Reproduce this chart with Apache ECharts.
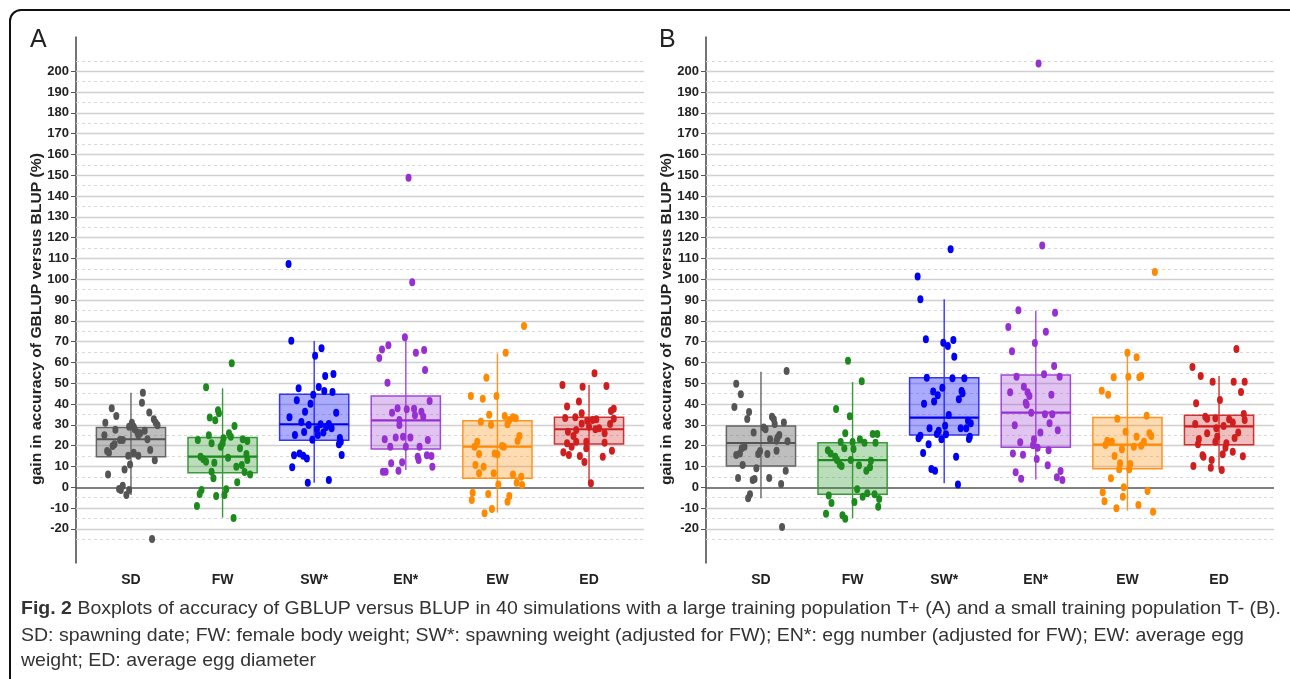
<!DOCTYPE html>
<html><head><meta charset="utf-8">
<script src="https://cdn.jsdelivr.net/npm/echarts@6/dist/echarts.min.js"></script>
<style>html,body{margin:0;padding:0;background:#fff}#c{width:1290px;height:679px}</style>
</head><body><div id="c"></div>
<script>
const categories = ['SD', 'FW', 'SW*', 'EN*', 'EW', 'ED'];
const yTickLabels = [-20,-10,0,10,20,30,40,50,60,70,80,90,100,110,120,130,140,150,160,170,180,190,200];
const minorGrid = [-25,-15,-5,5,15,25,35,45,55,65,75,85,95,105,115,125,135,145,155,165,175,185,195,205];
const yName = 'gain in accuracy of GBLUP versus BLUP (%)';
const panelLabels = ['A', 'B'];
const captionBold = 'Fig. 2';
const captionLine1 = ' Boxplots of accuracy of GBLUP versus BLUP in 40 simulations with a large training population T+ (A) and a small training population T- (B).';
const captionLine2 = 'SD: spawning date; FW: female body weight; SW*: spawning weight (adjusted for FW); EN*: egg number (adjusted for FW); EW: average egg';
const captionLine3 = 'weight; ED: average egg diameter';

// box stats: [lower whisker, Q1, median, Q3, upper whisker]
const boxA = [
  [-3.7, 14.7, 23.1, 28.7, 45.5],
  [-14.6, 7.0, 14.7, 23.9, 47.6],
  [2.2, 22.6, 30.3, 44.7, 70.3],
  [8.3, 18.4, 32.2, 43.9, 72.7],
  [-12.2, 4.3, 19.5, 32.0, 64.4],
  [1.9, 20.8, 27.9, 33.7, 49.2]
];
const boxB = [
  [-5.3, 10.2, 21.3, 29.5, 55.6],
  [-14.9, -3.4, 13.1, 21.4, 50.6],
  [1.9, 25.1, 33.5, 52.7, 90.4],
  [3.8, 19.2, 35.9, 54.0, 84.9],
  [-11.2, 8.9, 20.5, 33.5, 64.4],
  [8.7, 20.5, 29.3, 34.6, 53.5]
];

// points: [horizontal jitter (category units), value]
const ptsA_SD = [[-0.21,38],[-0.16,34.3],[-0.28,31],[-0.29,25],[-0.17,27.7],[-0.26,17.5],[-0.24,16.6],[-0.2,19.8],[-0.18,20.7],[-0.12,22.7],[-0.09,22.7],[-0.25,6.1],[-0.07,8.6],[-0.01,11],[-0.03,15.2],[0.03,16.6],[0.08,15.2],[-0.13,-0.8],[-0.11,-1.3],[-0.09,0.8],[-0.05,-3.7],[-0.02,-1.3],[0.01,31],[0.03,29.1],[0.04,27.9],[0.07,26.3],[0.08,25],[0.1,26],[0.12,40.7],[0.13,45.5],[0.15,27.2],[0.18,23.1],[0.2,36],[0.25,32.7],[0.27,31],[0.29,29.8],[0.21,17.9],[0.26,13],[0.23,-24.9],[-0.02,29.1]];
const ptsA_FW = [[-0.18,48.1],[0.1,59.6],[-0.14,33.5],[-0.08,32.2],[-0.05,37],[-0.04,35.6],[0.13,29.5],[0.07,26],[0.09,24.3],[-0.27,22.7],[-0.15,25],[-0.12,21.2],[-0.02,19.5],[0,21.2],[0.01,23.6],[0.22,23.1],[0.27,22.3],[0.19,18.8],[-0.24,14.7],[-0.21,13.5],[-0.18,12.3],[0.06,14.2],[0.26,16],[0.27,13.1],[0.15,9.9],[0.21,10.7],[-0.12,7.5],[-0.1,4.3],[0.24,7.4],[0.3,6.2],[0.16,2.4],[-0.23,-1.3],[-0.25,-3.2],[-0.28,-9],[-0.07,-4.2],[0.02,-3.7],[0.04,-1],[0.12,-14.8],[-0.09,11.8]];
const ptsA_SW = [[-0.25,70.5],[0.08,66.8],[0.01,63.3],[0.12,53.5],[0.21,54.5],[-0.17,47.6],[0.05,48.2],[0.11,46.3],[0.2,45.8],[-0.01,44.5],[-0.19,41.8],[-0.04,40.2],[-0.1,36.3],[0.24,35.9],[-0.27,33.7],[-0.14,31.4],[-0.06,30],[0.07,30.3],[0.16,30.4],[0.19,28.4],[0.13,29],[0.03,27.9],[-0.11,26.6],[-0.21,25.1],[0.1,26.3],[0.04,25.1],[-0.02,22.9],[0.28,23.7],[0.29,21.9],[0.27,20.7],[-0.22,15.4],[-0.16,16.2],[-0.12,15.2],[-0.08,13.9],[0.3,15.5],[-0.24,9.6],[0.16,3.5],[-0.07,2.2],[-0.28,107.4]];
const ptsA_EN = [[-0.01,72.1],[-0.26,66.3],[-0.19,68.3],[-0.29,62.2],[0.11,64.7],[0.2,66],[0.21,56.4],[-0.2,50.3],[0.26,41.5],[-0.09,38],[0.01,37.5],[0.09,37.8],[-0.15,35.9],[0.17,36.3],[0.1,34.6],[0.19,33.9],[-0.07,32.4],[-0.07,30],[-0.23,23.1],[-0.11,24],[-0.03,24.3],[0.05,24],[0.24,22.7],[-0.17,19.5],[0,19.5],[0.15,19.5],[0.13,14.7],[0.14,13.1],[0.23,15.4],[0.28,15],[-0.16,11.5],[-0.04,12],[-0.25,7.5],[-0.22,7.5],[-0.08,8],[0.29,9.9],[0.03,148.8],[0.07,98.6]];
const ptsA_EW = [[0.09,64.7],[-0.12,52.7],[-0.29,43.9],[-0.16,42.6],[-0.01,43.9],[-0.09,34.9],[-0.18,31.5],[-0.07,30.1],[0.08,34.3],[0.13,32.4],[0.17,33.7],[0.2,33.2],[0.11,30.3],[0.24,24.7],[0.22,22.3],[-0.22,21.9],[-0.25,19.5],[-0.2,16],[-0.03,16.3],[0,15.9],[0.05,19.9],[0.07,19.5],[-0.24,10.7],[-0.15,9.9],[-0.2,6.7],[-0.04,6.7],[0.17,6.2],[0.26,5.1],[0.21,2.2],[0.27,1.1],[0.01,1.4],[-0.27,-2.6],[-0.1,-3.2],[-0.28,-6.1],[0.13,-4.2],[0.11,-6.9],[-0.06,-10.4],[-0.14,-12.5],[0.29,77.5]];
const ptsA_ED = [[0.06,54.8],[-0.29,49.2],[-0.07,48.4],[0.19,48.7],[-0.11,41.2],[-0.24,38.8],[-0.08,35.6],[0.24,36.7],[0.27,37.8],[-0.26,33.3],[-0.15,33.7],[0.27,33],[-0.02,32],[0.04,32.4],[0.08,32.7],[0,29.1],[0.11,28.4],[-0.23,26.7],[-0.14,27.5],[0.07,27.9],[-0.17,24.7],[0.17,26],[-0.14,21.9],[-0.03,21.9],[0.17,21.4],[-0.24,21.2],[-0.19,19.5],[-0.03,18.8],[-0.28,16.8],[-0.22,15.5],[-0.1,15],[0.25,17.6],[0.15,14.7],[-0.05,12.2],[0.02,1.9],[-0.08,30.6],[0.23,30.4]];

const ptsB_SD = [[-0.27,49.8],[-0.22,44.7],[-0.29,38.6],[-0.13,36.2],[-0.15,32.8],[0.28,55.9],[0.12,33.9],[0.14,32.7],[0.15,30.4],[0.25,31.2],[0.03,28.7],[0.05,27.9],[-0.08,26.3],[0.2,25.1],[0.18,23.8],[0.1,23.1],[0.29,22.1],[0.17,22.4],[-0.18,19.5],[-0.21,18.8],[-0.23,16.3],[-0.27,15.5],[-0.01,17.5],[-0.03,16],[0.07,16],[0.17,17.6],[-0.2,10.7],[-0.05,9.1],[0.27,8],[-0.25,4.5],[-0.09,3.5],[-0.07,4],[0.09,4.5],[0.22,1.6],[-0.12,-3.4],[-0.14,-5.3],[0.23,-19.1]];
const ptsB_FW = [[-0.05,60.9],[0.1,51],[-0.18,37.6],[-0.03,34.1],[-0.08,26],[-0.13,21.8],[0,21.8],[0.08,23.1],[0.13,21.4],[0.22,25.6],[0.27,25.6],[0.25,21.4],[-0.27,17.8],[-0.24,16.3],[-0.19,14.7],[-0.17,13.1],[-0.14,11],[-0.12,10.2],[-0.09,18.8],[0.01,18.4],[-0.02,13.1],[0.07,10.6],[0.15,8],[0.19,9.6],[0.2,12.8],[-0.26,-4],[-0.23,-7.5],[-0.29,-12.7],[-0.11,-13.5],[-0.08,-15.1],[0.02,-7.1],[0.05,-1],[0.11,-4.5],[0.16,-2.9],[0.24,-3.4],[0.29,-5.6],[0.28,-9.3]];
const ptsB_SW = [[-0.26,90.4],[-0.2,71.2],[-0.01,69.5],[0.04,67.9],[0.1,70.8],[0.11,62.8],[-0.19,52.7],[0.09,52.4],[0.22,52.4],[-0.02,47.9],[-0.12,46],[-0.07,44.2],[0.19,46.3],[0.2,45.2],[0.16,42.3],[-0.11,41.2],[-0.22,40.2],[0.05,34.8],[-0.16,28.4],[-0.08,25.6],[-0.06,27.2],[0.01,29.6],[0.02,25.5],[-0.03,23.1],[-0.26,24.8],[-0.28,23.6],[0.18,28.4],[0.24,28.4],[0.26,32],[0.29,30.8],[0.28,24.3],[0.27,23.2],[-0.17,20.7],[-0.23,16.5],[0.13,14.7],[-0.14,8.8],[-0.1,8],[0.15,1.4],[-0.29,101.3],[0.07,114.4]];
const ptsB_EN = [[-0.19,85.1],[0.21,83.9],[-0.3,77.1],[0.11,74.8],[-0.26,65.4],[-0.01,69.4],[0.2,58.3],[-0.21,53.2],[0.09,54.3],[0.26,53.2],[-0.28,45.7],[-0.13,48.4],[-0.09,45.7],[-0.07,43.9],[0.17,44.5],[-0.11,40.7],[-0.1,39.7],[-0.05,35.9],[0.1,35.1],[0.18,35.1],[-0.23,29.8],[0.15,30.8],[0.24,27.4],[0.05,26.3],[-0.02,23.1],[-0.17,21.6],[-0.03,20.2],[0.02,19],[-0.25,16.3],[-0.14,15.7],[0.14,17.8],[0.01,13.6],[0.13,10.6],[-0.22,7.2],[-0.16,4.1],[0.23,4.8],[0.27,7.8],[0.29,3.5],[0.03,203.8],[0.07,116.2]];
const ptsB_EW = [[0,64.7],[0.1,62.5],[-0.15,52.9],[0.01,53.2],[0.13,52.9],[0.15,53.5],[-0.28,46.4],[-0.21,44.5],[-0.11,33],[0.21,34.4],[-0.02,26.7],[0.1,24.3],[0.24,26],[0.26,24.7],[0.18,21.9],[0.15,20],[0.07,19.5],[-0.06,18.3],[-0.24,20.3],[-0.22,22.4],[-0.17,21.9],[-0.14,15],[-0.08,11.5],[-0.09,8.7],[0.03,11.2],[0.02,8.7],[-0.18,4.3],[-0.04,0],[-0.27,-2.4],[-0.25,-6.7],[-0.05,-4.5],[0.22,-1.8],[0.12,-8.5],[-0.12,-10.1],[0.28,-11.7],[0.3,103.5]];
const ptsB_ED = [[0.19,66.5],[-0.29,57.8],[-0.2,53.5],[-0.07,50.8],[0.16,50.8],[0.28,50.8],[0.24,45.8],[0.01,42],[-0.25,40.4],[-0.15,33.9],[-0.13,33],[0.27,35.2],[0.28,32.4],[-0.26,30.4],[-0.04,33.2],[0.11,32.7],[0.15,31.1],[0.05,29.5],[-0.03,28.4],[-0.13,26],[0.21,26.4],[-0.02,24.3],[0.17,23.7],[-0.22,23.2],[-0.04,21.9],[-0.23,20.7],[0.08,21.2],[0.07,19],[-0.18,15.4],[-0.17,14.7],[0.04,15.9],[0.15,17.1],[0.26,14.9],[-0.08,13.1],[-0.28,10.2],[-0.09,9.4],[0.03,8.3]];

const ptsA = [ptsA_SD, ptsA_FW, ptsA_SW, ptsA_EN, ptsA_EW, ptsA_ED];
const ptsB = [ptsB_SD, ptsB_FW, ptsB_SW, ptsB_EN, ptsB_EW, ptsB_ED];

// styles
const pointColors = ['#555555', '#1c8a1c', '#0000f5', '#9630d2', '#ff8a00', '#d01e1e'];
const lineColors  = ['#666666', '#3a9a3a', '#3535f0', '#a048d6', '#ff9420', '#cc3333'];
const fillColors  = ['rgba(110,110,110,0.45)', 'rgba(40,150,40,0.32)', 'rgba(20,20,255,0.36)', 'rgba(160,60,215,0.30)', 'rgba(255,145,20,0.33)', 'rgba(210,40,40,0.30)'];

const grids = [{left: 76, top: 37, width: 568, height: 526}, {left: 706, top: 37, width: 568, height: 526}];

function renderBox(params, api) {
  const x = api.value(0);
  const lo = api.coord([x, api.value(1)]);
  const q1 = api.coord([x, api.value(2)]);
  const md = api.coord([x, api.value(3)]);
  const q3 = api.coord([x, api.value(4)]);
  const hi = api.coord([x, api.value(5)]);
  const ci = api.value(6);
  const w = api.size([0.755, 0])[0];
  const c = lineColors[ci];
  return {
    type: 'group',
    children: [
      {type: 'line', shape: {x1: lo[0], y1: lo[1], x2: hi[0], y2: hi[1]}, style: {stroke: c, lineWidth: 1.4}},
      {type: 'rect', shape: {x: q3[0] - w / 2, y: q3[1], width: w, height: q1[1] - q3[1]}, style: {fill: fillColors[ci], stroke: c, lineWidth: 1.5}},
      {type: 'line', shape: {x1: md[0] - w / 2, y1: md[1], x2: md[0] + w / 2, y2: md[1]}, style: {stroke: pointColors[ci], lineWidth: 2.2}}
    ]
  };
}

const gridMark = [];
yTickLabels.forEach(v => gridMark.push({yAxis: v, lineStyle: v === 0 ? {color: '#555', width: 1.6, type: 'solid'} : {color: '#d0d0d0', width: 1.4, type: 'solid'}}));
minorGrid.forEach(v => gridMark.push({yAxis: v, lineStyle: {color: '#d8d8d8', width: 1, type: [3, 3]}}));

const xAxes = [], yAxes = [], series = [];
[boxA, boxB].forEach((boxes, g) => {
  xAxes.push({
    type: 'value', gridIndex: g, min: -0.6, max: 5.6,
    axisLine: {show: false}, axisTick: {show: false}, splitLine: {show: false},
    axisLabel: {customValues: [0, 1, 2, 3, 4, 5], formatter: v => categories[Math.round(v)], fontFamily: 'Liberation Sans', fontWeight: 'bold', fontSize: 14, color: '#222', margin: 10}
  });
  yAxes.push({
    type: 'value', gridIndex: g, min: -36.4, max: 216.5,
    axisLine: {show: true, onZero: false, lineStyle: {color: '#444', width: 1.5}},
    axisTick: {show: true, customValues: yTickLabels, length: 5, lineStyle: {color: '#555', width: 1}},
    axisLabel: {customValues: yTickLabels, fontFamily: 'Liberation Sans', fontWeight: 'bold', fontSize: 13, color: '#222', margin: 7},
    splitLine: {show: false}
  });
  series.push({
    type: 'line', xAxisIndex: g, yAxisIndex: g, data: [[-5, -100]], symbol: 'none', silent: true, z: 1,
    lineStyle: {opacity: 0},
    markLine: {silent: true, z: 1, symbol: ['none', 'none'], label: {show: false}, animation: false, data: gridMark}
  });
  series.push({
    type: 'custom', xAxisIndex: g, yAxisIndex: g, z: 2, silent: true,
    renderItem: renderBox,
    data: boxes.map((b, i) => [i].concat(b).concat([i]))
  });
  const pts = g === 0 ? ptsA : ptsB;
  pts.forEach((arr, i) => {
    series.push({
      type: 'scatter', xAxisIndex: g, yAxisIndex: g, z: 3, silent: true,
      symbol: 'circle', symbolSize: [6, 8],
      itemStyle: {color: pointColors[i], opacity: 1},
      data: arr.map(p => [i + p[0], p[1]])
    });
  });
});

// caption sizing
const capFont = '"Liberation Sans Narrow", "Liberation Sans", sans-serif';
const capSize = 19;
const ctx = document.createElement('canvas').getContext('2d');
ctx.font = 'bold ' + capSize + 'px ' + capFont;
const wb = ctx.measureText(captionBold).width;
ctx.font = capSize + 'px ' + capFont;
const w1 = ctx.measureText(captionLine1).width;
const capScale = 1260 / (wb + w1);

const nameFont = '"Liberation Sans", sans-serif';
ctx.font = 'bold 14px ' + nameFont;
const nameScale = 332 / ctx.measureText(yName).width;

const graphic = [
  {type: 'rect', shape: {x: 10, y: 10, width: 1300, height: 720, r: 11}, style: {fill: 'none', stroke: '#111', lineWidth: 2}, z: 10},
  {type: 'text', x: 30, y: 28, style: {text: panelLabels[0], fontFamily: 'Liberation Sans', fontSize: 25, fill: '#222'}},
  {type: 'text', x: 659, y: 28, style: {text: panelLabels[1], fontFamily: 'Liberation Sans', fontSize: 25, fill: '#222'}},
  {type: 'text', x: 37, y: 319, rotation: Math.PI / 2, scaleX: nameScale, style: {text: yName, fontFamily: nameFont, fontWeight: 'bold', fontSize: 14, fill: '#222', align: 'center', verticalAlign: 'middle'}},
  {type: 'text', x: 667, y: 319, rotation: Math.PI / 2, scaleX: nameScale, style: {text: yName, fontFamily: nameFont, fontWeight: 'bold', fontSize: 14, fill: '#222', align: 'center', verticalAlign: 'middle'}},
  {type: 'text', x: 21, y: 609, scaleX: capScale, style: {text: '{b|' + captionBold + '}' + captionLine1, fontFamily: capFont, fontSize: capSize, fill: '#333', verticalAlign: 'middle', rich: {b: {fontFamily: capFont, fontWeight: 'bold', fontSize: capSize, fill: '#333'}}}},
  {type: 'text', x: 21, y: 636, scaleX: capScale, style: {text: captionLine2, fontFamily: capFont, fontSize: capSize, fill: '#333', verticalAlign: 'middle'}},
  {type: 'text', x: 21, y: 661, scaleX: capScale, style: {text: captionLine3, fontFamily: capFont, fontSize: capSize, fill: '#333', verticalAlign: 'middle'}}
];

const chart = echarts.init(document.getElementById('c'), null, {renderer: 'canvas'});
chart.setOption({
  animation: false,
  backgroundColor: '#fff',
  grid: grids,
  xAxis: xAxes,
  yAxis: yAxes,
  series: series,
  graphic: graphic
});
</script>
</body></html>
